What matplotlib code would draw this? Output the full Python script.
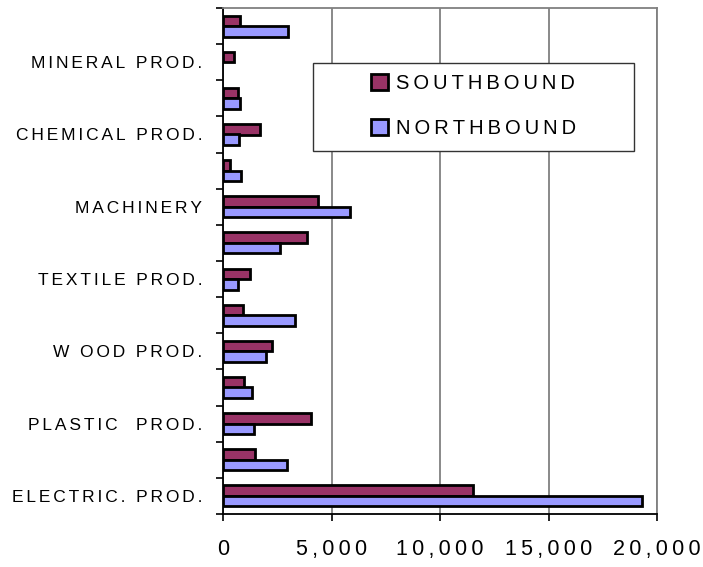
import matplotlib
matplotlib.use("Agg")
import matplotlib.pyplot as plt
from matplotlib.patches import Patch, Rectangle
from matplotlib.ticker import FuncFormatter
import numpy as np

# ── Data (bottom → top) ───────────────────────────────────────────────────────
categories = ["ELECTRIC. PROD.", "", "PLASTIC  PROD.", "", "W OOD PROD.", "",
              "TEXTILE PROD.", "", "MACHINERY", "", "CHEMICAL PROD.", "",
              "MINERAL PROD.", ""]
southbound = [11500, 1470, 4050, 950, 2240, 920, 1260, 3870, 4360, 340,
              1720, 670, 490, 770]
northbound = [19300, 2950, 1410, 1350, 1960, 3310, 700, 2640, 5830, 830,
              720, 800, 0, 2980]
x_ticks = [0, 5000, 10000, 15000, 20000]

SOUTH_C = "#993366"
NORTH_C = "#9999FF"


def spaced(s, gap="\u2009"):
    # wide letter spacing, done with narrow space characters
    return gap.join(s)


def edge_widths(vals, lw=2):
    # no outline on empty bars, otherwise a stray stroke shows at x=0
    return [lw if v > 0 else 0 for v in vals]


plt.rcParams["font.family"] = ["Liberation Sans", "DejaVu Sans"]

fig = plt.figure(figsize=(7.03, 5.67), dpi=100)
ax = fig.add_axes([223 / 703, 1 - 514 / 567, (657 - 223) / 703, (514 - 8) / 567])

y = np.arange(len(categories))
h = 0.29
ax.barh(y + h / 2, southbound, height=h, color=SOUTH_C, edgecolor="black",
        linewidth=edge_widths(southbound), zorder=3)
ax.barh(y - h / 2, northbound, height=h, color=NORTH_C, edgecolor="black",
        linewidth=edge_widths(northbound), zorder=3)

ax.set_xlim(0, 20000)
ax.set_ylim(-0.5, len(categories) - 0.5)

# x axis
ax.set_xticks(x_ticks)
ax.xaxis.set_major_formatter(FuncFormatter(lambda v, p: spaced(f"{int(v):,}")))
ax.tick_params(axis="x", direction="out", length=5, width=1.2, pad=13,
               labelsize=15.5, colors="black")
ax.xaxis.grid(True, color="#808080", linewidth=1.3)
ax.set_axisbelow(True)

# y axis: labels at centres, tick marks at category boundaries
ax.set_yticks(y)
ax.set_yticklabels([spaced(c, "\u2006") for c in categories])
ax.set_yticks(np.arange(len(categories) + 1) - 0.5, minor=True)
ax.tick_params(axis="y", which="major", length=0, pad=15, labelsize=12.5)
ax.tick_params(axis="y", which="minor", direction="out", length=5, width=1.2)

for side in ("top", "right"):
    ax.spines[side].set_color("#808080")
    ax.spines[side].set_linewidth(1.3)
for side in ("left", "bottom"):
    ax.spines[side].set_color("black")
    ax.spines[side].set_linewidth(1.3)

# ── Legend box ────────────────────────────────────────────────────────────────
box = Rectangle((313 / 703, 1 - 151 / 567), (634 - 313) / 703, (151 - 63) / 567,
                transform=fig.transFigure, facecolor="white", edgecolor="#333333",
                linewidth=1.0, zorder=4, clip_on=False)
ax.add_patch(box)

handles = [Patch(facecolor=SOUTH_C, edgecolor="black", linewidth=2),
           Patch(facecolor=NORTH_C, edgecolor="black", linewidth=2)]
leg = ax.legend(handles, [spaced("SOUTHBOUND"), spaced("NORTHBOUND")],
                loc="center", bbox_to_anchor=(473.5 / 703, 1 - 106 / 567),
                bbox_transform=fig.transFigure, frameon=False,
                fontsize=14.5, handlelength=0.85, handleheight=0.85,
                handletextpad=0.35, labelspacing=1.25)
leg.set_zorder(5)

fig.savefig("out.png", dpi=100)
